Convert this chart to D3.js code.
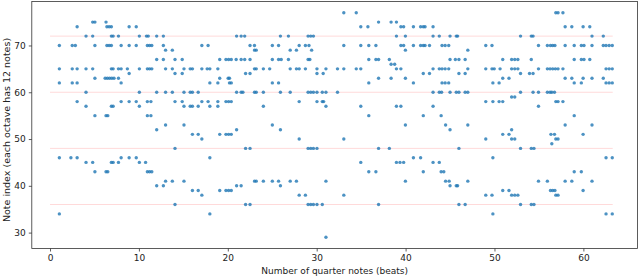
<!DOCTYPE html>
<html>
<head>
<meta charset="utf-8">
<script src="https://cdn.jsdelivr.net/npm/d3@7"></script>
<style>
  body { margin: 0; background: #fff; }
  svg { display: block; font-family: "DejaVu Sans", sans-serif; }
</style>
</head>
<body>
<svg id="chart" width="640" height="278"></svg>
<script>
// octave reference lines (C notes) and ticks
var octaveLines = [36, 48, 60, 72];
var lineSpan = [0, 63.3];
var xTicks = [0, 10, 20, 30, 40, 50, 60];
var yTicks = [30, 40, 50, 60, 70];

// notes, [beat, note index], split by stretch of beats
var notesBeats0to10 = [
  [4.8,75],[5.05,75],[6.3,75],
  [3.05,74],[6.4,74],[6.65,74],[6.9,74],[8.9,74],[9.7,74],
  [4.05,72],[4.8,72],[6.9,72],[7.1,72],[7.7,72],[10.05,72],
  [1.05,70],[2.5,70],[2.85,70],[5.05,70],[6.4,70],[6.65,70],[6.9,70],[8.0,70],[8.9,70],[9.7,70],
  [1.05,65],[2.5,65],[3.05,65],[4.05,65],[4.8,65],[6.9,65],[7.1,65],[7.7,65],[8.0,65],[8.7,65],[10.05,65],
  [8.9,64],
  [5.05,63],[6.2,63],[6.45,63],[6.7,63],[6.95,63],[7.2,63],[7.7,63],
  [1.05,62],[2.5,62],[3.05,62],[8.0,62],
  [4.05,60],[10.05,60],
  [3.05,58],[8.0,58],[8.9,58],[9.7,58],
  [4.05,57],[6.9,57],[7.1,57],[10.05,57],
  [5.05,55],[6.3,55],[6.5,55],
  [1.05,46],[2.35,46],[3.05,46],[8.0,46],[8.9,46],[9.7,46],
  [4.05,45],[4.8,45],[6.9,45],[7.1,45],[7.7,45],[10.05,45],
  [5.05,43],[6.3,43],[6.5,43],
  [1.05,34]
];

var notesBeats10to21 = [
  [10.85,72],[11.05,72],[12.0,72],[12.75,72],[20.99,72],
  [10.95,70],[11.2,70],[11.45,70],[12.75,70],[17.08,70],[17.78,70],
  [13.0,69],[13.76,69],
  [12.0,67],[12.75,67],[14.06,67],[14.87,67],[19.09,67],[19.79,67],[20.09,67],[20.39,67],[20.94,67],
  [10.95,65],[11.2,65],[11.45,65],[13.0,65],[13.76,65],[15.07,65],[15.77,65],[16.02,65],[17.08,65],[17.68,65],[17.98,65],[18.88,65],
  [14.06,64],[14.87,64],
  [19.09,63],[20.04,63],[20.19,63],
  [17.98,62],[18.88,62],[20.19,62],[20.39,62],
  [12.0,60],[13.0,60],[13.76,60],[15.07,60],[15.77,60],[16.02,60],[16.67,60],[20.99,60],
  [10.95,58],[11.35,58],[14.06,58],[14.87,58],[17.08,58],[17.78,58],[18.88,58],[19.79,58],[20.09,58],[20.39,58],
  [15.07,57],[15.77,57],[16.02,57],[16.67,57],[17.98,57],[18.88,57],
  [10.95,55],[11.35,55],
  [13.0,53],[15.07,53],
  [12.0,52],[20.99,52],
  [16.02,51],[16.67,51],[19.09,51],[19.79,51],[20.09,51],[20.39,51],
  [17.08,50],
  [14.06,48],
  [17.98,46],
  [10.75,45],
  [10.95,43],[11.2,43],[11.45,43],
  [13.0,41],[13.76,41],[15.07,41],
  [12.0,40],[12.75,40],[20.99,40],
  [16.02,39],[16.67,39],[19.09,39],[19.79,39],[20.09,39],[20.39,39],
  [17.08,38],
  [14.06,36],
  [17.98,34]
];

var notesBeats21to32 = [
  [21.5,72],[21.9,72],[25.92,72],[26.82,72],[29.03,72],[29.33,72],[29.63,72],
  [22.5,70],[23.0,70],[25.01,70],[25.71,70],[28.03,70],[28.73,70],[29.13,70],
  [23.0,69],[23.2,69],[27.02,69],[27.72,69],[29.43,69],
  [21.5,67],[21.9,67],[22.5,67],[25.01,67],[25.71,67],[26.01,67],[26.82,67],[29.03,67],[29.23,67],
  [23.0,65],[23.2,65],[24.0,65],[24.71,65],[27.02,65],[27.72,65],[28.03,65],[28.73,65],[30.03,65],[31.04,65],[32.34,65],
  [22.0,64],[22.5,64],[30.03,64],[30.73,64],
  [25.01,62],[25.71,62],
  [21.5,60],[21.7,60],[23.0,60],[23.2,60],[24.0,60],[25.92,60],[27.02,60],[29.03,60],[29.33,60],[29.63,60],[30.03,60],[30.63,60],[31.04,60],[32.34,60],
  [28.03,58],[30.03,58],[30.63,58],[30.78,58],
  [24.0,57],[31.04,57],
  [25.01,53],
  [25.92,52],
  [28.03,50],
  [22.0,48],[22.5,48],[29.03,48],[29.33,48],[29.63,48],[30.03,48],
  [23.0,41],[23.2,41],[24.0,41],[25.01,41],[25.71,41],[27.02,41],[27.72,41],[31.04,41],
  [21.5,40],[25.92,40],
  [28.03,38],[28.73,38],
  [22.0,36],[22.5,36],[29.03,36],[29.33,36],[29.63,36],[30.03,36],[30.63,36],
  [31.04,29]
];

var notesBeats32to43 = [
  [33.05,77],[34.45,77],
  [36.96,75],[38.37,75],[38.97,75],
  [34.96,74],[35.76,74],[39.47,74],[39.78,74],[40.88,74],[41.69,74],[41.99,74],[42.19,74],[43.09,74],
  [38.97,72],[39.98,72],[43.09,72],[43.79,72],
  [33.05,70],[34.96,70],[35.86,70],[36.66,70],[39.47,70],[39.78,70],[40.88,70],[41.69,70],[41.99,70],[42.19,70],[42.69,70],
  [39.98,69],
  [35.86,67],[36.66,67],[36.96,67],[38.17,67],
  [38.37,66],[38.77,66],
  [33.05,65],[34.45,65],[34.96,65],[38.97,65],[39.47,65],[43.09,65],[43.79,65],
  [41.99,64],[42.69,64],
  [36.96,63],[38.37,63],[39.98,63],
  [35.86,62],[40.88,62],
  [43.09,60],[43.79,60],
  [34.96,57],[38.97,57],[39.47,57],[43.09,57],
  [35.86,55],[41.99,55],
  [39.98,53],
  [33.05,50],
  [36.96,48],[38.17,48],
  [40.88,46],[41.69,46],
  [34.96,45],[38.97,45],[39.37,45],[39.78,45],[43.09,45],[43.79,45],
  [35.86,43],[36.66,43],[41.99,43],
  [39.98,41],
  [33.05,38],
  [36.96,36]
];

var notesBeats44to54 = [
  [45.0,72],[45.7,72],[45.85,72],[52.93,72],[54.14,72],[54.34,72],
  [44.1,70],[44.45,70],[44.85,70],[49.02,70],[49.72,70],[54.95,70],
  [47.0,69],
  [45.0,67],[45.6,67],[46.0,67],[46.7,67],[50.93,67],[51.93,67],[52.28,67],[52.63,67],[54.14,67],
  [44.1,65],[44.45,65],[44.85,65],[47.0,65],[49.02,65],[49.72,65],[49.97,65],[50.63,65],[51.93,65],[52.28,65],[52.63,65],[54.95,65],
  [46.0,64],[46.7,64],[52.93,64],[53.94,64],[54.34,64],
  [50.93,63],[51.63,63],
  [44.1,62],[44.45,62],[44.85,62],[49.82,62],[50.52,62],
  [44.05,60],[45.0,60],[45.7,60],[46.0,60],[46.7,60],[47.0,60],[52.93,60],[54.34,60],[54.95,60],
  [51.93,59],[52.28,59],
  [49.02,58],[49.82,58],[50.52,58],[50.93,58],
  [54.95,57],
  [44.0,55],
  [44.5,53],[47.0,53],
  [45.0,52],[51.93,52],
  [50.93,51],[51.63,51],
  [49.02,50],[51.93,50],[52.28,50],
  [46.0,48],[52.93,48],[54.14,48],[54.44,48],
  [49.82,46],
  [44.0,43],[44.3,43],
  [44.5,41],[44.9,41],[47.0,41],[54.95,41],
  [45.0,40],[45.7,40],[45.85,40],
  [50.93,39],[51.63,39],
  [49.02,38],[49.72,38],[51.93,38],[52.28,38],[52.63,38],
  [46.0,36],[46.7,36],[52.93,36],[54.14,36],[54.44,36],
  [49.82,34]
];

var notesBeats55to63 = [
  [56.9,77],[57.15,77],[57.7,77],
  [57.95,74],[58.7,74],[59.97,74],[60.72,74],
  [60.97,72],[62.24,72],
  [55.95,70],[56.3,70],[56.55,70],[56.8,70],[57.95,70],[58.97,70],[59.77,70],[60.07,70],[60.97,70],[62.24,70],[62.55,70],[62.9,70],[63.25,70],
  [58.97,67],[59.77,67],[60.07,67],[60.72,67],
  [55.95,65],[56.25,65],[56.55,65],[56.85,65],[57.15,65],[57.7,65],[62.55,65],[62.9,65],[63.25,65],
  [57.95,63],[58.7,63],[59.97,63],[60.97,63],[62.24,63],
  [58.97,62],[59.77,62],[62.55,62],[62.9,62],[63.25,62],
  [55.95,60],[56.25,60],[56.45,60],[56.75,60],
  [56.9,58],[57.15,58],[57.7,58],
  [58.97,55],
  [57.95,53],[60.97,53],
  [56.35,51],[56.75,51],[59.97,51],
  [56.9,50],[57.15,50],
  [56.45,49],
  [62.55,46],[63.25,46],
  [58.97,43],[59.77,43],
  [55.95,41],[57.95,41],[58.7,41],[60.97,41],
  [56.3,39],[56.55,39],[56.8,39],[59.97,39],
  [56.9,38],[57.15,38],
  [62.55,34],[63.25,34]
];

var allNotes = [].concat(notesBeats0to10, notesBeats10to21, notesBeats21to32,
  notesBeats32to43, notesBeats44to54, notesBeats55to63);

var svg = d3.select('#chart');

var x = d3.scaleLinear().domain([-2.05, 66.1]).range([31.8, 637.6]);
var y = d3.scaleLinear().domain([26.6, 79.4]).range([248.5, 1.5]);

// octave lines
svg.append('g')
  .selectAll('line')
  .data(octaveLines)
  .enter()
  .append('line')
  .attr('x1', x(lineSpan[0]))
  .attr('x2', x(lineSpan[1]))
  .attr('y1', function (d) { return y(d); })
  .attr('y2', function (d) { return y(d); })
  .attr('stroke', '#ff0000')
  .attr('stroke-opacity', 0.15)
  .attr('stroke-width', 1);

// notes
svg.append('g')
  .selectAll('circle')
  .data(allNotes)
  .enter()
  .append('circle')
  .attr('cx', function (d) { return x(d[0]); })
  .attr('cy', function (d) { return y(d[1]); })
  .attr('r', 1.7)
  .attr('fill', '#1f77b4')
  .attr('fill-opacity', 0.8);

// axes
var xAxis = svg.append('g')
  .attr('transform', 'translate(0,248.5)')
  .call(d3.axisBottom(x).tickValues(xTicks).tickSize(3).tickPadding(3).tickFormat(d3.format('d')));

var yAxis = svg.append('g')
  .attr('transform', 'translate(31.8,0)')
  .call(d3.axisLeft(y).tickValues(yTicks).tickSize(3).tickPadding(3).tickFormat(d3.format('d')));

[xAxis, yAxis].forEach(function (g) {
  g.select('.domain').remove();
  g.selectAll('line').attr('stroke', '#333').attr('stroke-width', 0.8);
  g.selectAll('text').attr('fill', '#222').style('font-size', '9px')
    .style('font-family', '"DejaVu Sans", sans-serif');
});

// frame
svg.append('rect')
  .attr('x', 31.8)
  .attr('y', 1.5)
  .attr('width', 637.6 - 31.8)
  .attr('height', 248.5 - 1.5)
  .attr('fill', 'none')
  .attr('stroke', '#333')
  .attr('stroke-width', 0.8);

svg.append('text')
  .attr('x', (31.8 + 637.6) / 2)
  .attr('y', 274)
  .attr('text-anchor', 'middle')
  .attr('fill', '#222')
  .style('font-size', '9px')
  .text('Number of quarter notes (beats)');

svg.append('text')
  .attr('transform', 'translate(10,130) rotate(-90)')
  .attr('text-anchor', 'middle')
  .attr('fill', '#222')
  .style('font-size', '9.5px')
  .text('Note index (each octave has 12 notes)');
</script>
</body>
</html>
